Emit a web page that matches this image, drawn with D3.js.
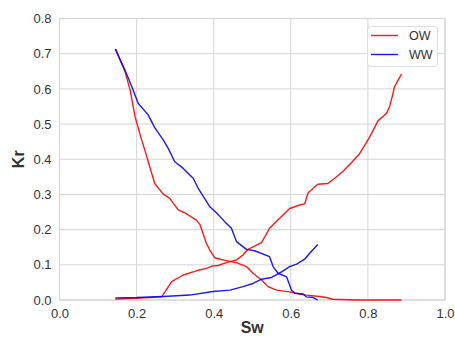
<!DOCTYPE html>
<html><head><meta charset="utf-8">
<script src="https://cdn.jsdelivr.net/npm/d3@7"></script>
<style>body{margin:0;background:#fff}svg{display:block}</style>
</head><body><svg id="c" width="455" height="338"></svg>
<script>
// Data
const owKroX = [0.145,0.170,0.183,0.196,0.213,0.220,0.247,0.269,0.286,0.308,0.325,0.355,0.364,0.381,0.390,0.403,0.409,0.433,0.459,0.485,0.502,0.524,0.541,0.563,0.597,0.623,0.640,0.675,0.692,0.709,0.770,0.887];
const owKroY = [0.713,0.649,0.597,0.521,0.455,0.431,0.331,0.301,0.289,0.256,0.248,0.227,0.215,0.161,0.142,0.120,0.118,0.112,0.106,0.095,0.076,0.057,0.038,0.028,0.023,0.017,0.014,0.010,0.007,0.002,0.000,0.000];
const owKrwX = [0.145,0.200,0.265,0.291,0.321,0.355,0.381,0.398,0.411,0.433,0.459,0.476,0.489,0.524,0.545,0.571,0.597,0.623,0.636,0.645,0.670,0.696,0.714,0.735,0.757,0.778,0.796,0.804,0.815,0.826,0.848,0.856,0.863,0.869,0.887];
const owKrwY = [0.003,0.005,0.009,0.052,0.071,0.083,0.090,0.097,0.098,0.106,0.114,0.128,0.144,0.163,0.204,0.232,0.260,0.270,0.273,0.305,0.329,0.331,0.346,0.365,0.390,0.415,0.447,0.462,0.485,0.509,0.530,0.549,0.578,0.606,0.642];
const wwKroX = [0.145,0.170,0.191,0.204,0.230,0.247,0.269,0.282,0.299,0.321,0.338,0.347,0.360,0.390,0.407,0.429,0.446,0.459,0.485,0.506,0.545,0.554,0.567,0.589,0.602,0.610,0.632,0.640,0.658,0.670];
const wwKroY = [0.713,0.653,0.597,0.559,0.526,0.490,0.455,0.431,0.393,0.374,0.355,0.346,0.317,0.265,0.248,0.222,0.204,0.166,0.144,0.140,0.123,0.095,0.076,0.066,0.028,0.019,0.017,0.009,0.007,0.000];
const wwKrwX = [0.145,0.200,0.269,0.338,0.398,0.442,0.476,0.502,0.524,0.550,0.576,0.597,0.615,0.636,0.649,0.670];
const wwKrwY = [0.006,0.007,0.010,0.014,0.024,0.028,0.038,0.047,0.059,0.064,0.080,0.095,0.102,0.116,0.133,0.158];
const xTicks = [0.0,0.2,0.4,0.6,0.8,1.0];
const yTicks = [0.0,0.1,0.2,0.3,0.4,0.5,0.6,0.7,0.8];
const seriesNames = ["OW","WW"];
const seriesColors = ["#ff0000","#0000ff"];

const svg = d3.select("#c");
const L = 59.5, R = 445, T = 18.5, B = 300;
const x = d3.scaleLinear().domain([0,1]).range([L,R]);
const y = d3.scaleLinear().domain([0,0.8]).range([B,T]);
const grid = "#d5d5d5", txt = "#333";
const font = "'Liberation Sans', Arial, sans-serif";

// grid
svg.append("g").selectAll("line").data(xTicks).join("line")
  .attr("x1",d=>x(d)).attr("x2",d=>x(d)).attr("y1",T).attr("y2",B)
  .attr("stroke",grid).attr("stroke-width",1);
svg.append("g").selectAll("line").data(yTicks).join("line")
  .attr("y1",d=>y(d)).attr("y2",d=>y(d)).attr("x1",L).attr("x2",R)
  .attr("stroke",grid).attr("stroke-width",1);
// frame
svg.append("rect").attr("x",L).attr("y",T).attr("width",R-L).attr("height",B-T)
  .attr("fill","none").attr("stroke",grid).attr("stroke-width",1.2);

// axes via d3 axis (no ticks/lines, labels only)
const xa = svg.append("g").attr("transform",`translate(0,${B})`)
  .call(d3.axisBottom(x).tickValues(xTicks).tickFormat(d3.format(".1f")).tickSize(0).tickPadding(9));
const ya = svg.append("g").attr("transform",`translate(${L},0)`)
  .call(d3.axisLeft(y).tickValues(yTicks).tickFormat(d3.format(".1f")).tickSize(0).tickPadding(8));
[xa,ya].forEach(a=>{
  a.select(".domain").remove();
  a.selectAll("text").attr("fill",txt).style("font-family",font).style("font-size","13px");
});

// lines
const line = d3.line().x(d=>x(d[0])).y(d=>y(d[1]));
const curves = [
  [d3.zip(owKroX,owKroY), seriesColors[0]],
  [d3.zip(owKrwX,owKrwY), seriesColors[0]],
  [d3.zip(wwKroX,wwKroY), seriesColors[1]],
  [d3.zip(wwKrwX,wwKrwY), seriesColors[1]]
];
curves.forEach(([pts,c])=>{
  svg.append("path").attr("d",line(pts)).attr("fill","none")
    .attr("stroke",c).attr("stroke-width",1.4).attr("stroke-opacity",0.9)
    .attr("stroke-linejoin","round");
});

// axis titles
svg.append("text").attr("x",(L+R)/2).attr("y",333).attr("text-anchor","middle")
  .attr("fill",txt).style("font-family",font).style("font-size","16px").style("font-weight","bold").text("Sw");
svg.append("text").attr("transform",`translate(24,${(T+B)/2}) rotate(-90)`).attr("text-anchor","middle")
  .attr("fill",txt).style("font-family",font).style("font-size","16px").style("font-weight","bold").text("Kr");

// legend
const lg = svg.append("g");
lg.append("rect").attr("x",367.5).attr("y",26.5).attr("width",70).attr("height",40).attr("rx",3)
  .attr("fill","#fff").attr("fill-opacity",0.85).attr("stroke","#ddd").attr("stroke-width",1);
seriesNames.forEach((n,i)=>{
  const yy = 35.5 + i*19;
  lg.append("line").attr("x1",371).attr("x2",398).attr("y1",yy).attr("y2",yy)
    .attr("stroke",seriesColors[i]).attr("stroke-width",1.4).attr("stroke-opacity",0.9);
  lg.append("text").attr("x",409).attr("y",yy+4.5).attr("fill",txt)
    .style("font-family",font).style("font-size","12.5px").text(n);
});
</script></body></html>
